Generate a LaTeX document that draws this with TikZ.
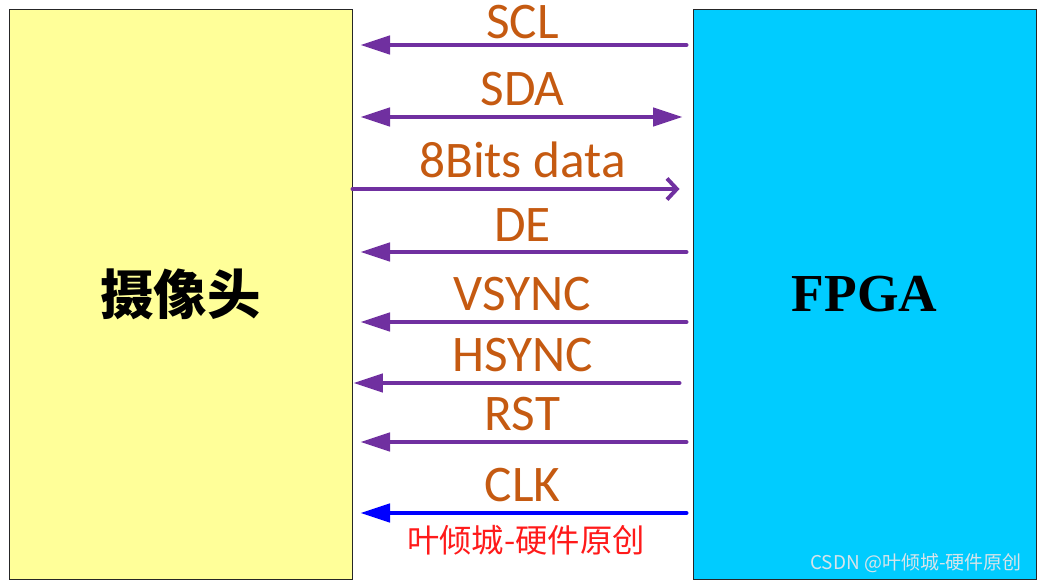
\documentclass[tikz,border=0pt]{standalone}
\usepackage{fontspec}
\setmainfont{Carlito}
\newfontfamily\cjk{Noto Sans CJK SC}
\newfontfamily\serifbold{Liberation Serif}
\usetikzlibrary{arrows.meta}

\definecolor{camyellow}{HTML}{FFFF99}
\definecolor{fpgacyan}{HTML}{00CCFF}
\definecolor{sigpurple}{HTML}{7030A0}
\definecolor{sigorange}{HTML}{C55A11}
\definecolor{clkblue}{HTML}{0000FF}
\definecolor{wmred}{HTML}{FF1A1A}
\definecolor{csdngray}{HTML}{D8E4EA}

\begin{document}
\begin{tikzpicture}[x=0.025cm, y=-0.025cm,
    block/.style={draw=black!85, line width=0.6pt, minimum width=8.575cm,
                  minimum height=14.25cm, inner sep=0pt},
    sig/.style={draw=sigpurple, line width=2.8pt, line cap=round,
                -{Triangle[length=21pt,width=13pt]},
                shorten <=0.15cm, shorten >=0.2cm},
    siglabel/.style={midway, above=#1, inner sep=0pt, text=sigorange,
                     font=\fontsize{36.5}{38}\selectfont},
    siglabel/.default=0.22cm
]
    \useasboundingbox (0,0) rectangle (1041,583);

    % Blocks
    \node[block, fill=camyellow] (camera) at (180.5,294)
        {\cjk\bfseries\fontsize{38}{40}\selectfont 摄像头};
    \node[block, fill=fpgacyan] (fpga) at (864.5,294)
        {\serifbold\bfseries\fontsize{38}{40}\selectfont FPGA};

    % Signals
    \draw[sig] (fpga.west |- 0,45) -- (camera.east |- 0,45)
        node[siglabel=0.1cm] (scl) {SCL};
    \draw[sig, {Triangle[length=21pt,width=13pt]}-{Triangle[length=21pt,width=13pt]},
          shorten <=0.2cm, shorten >=0.25cm]
        (camera.east |- 0,117) -- (fpga.west |- 0,117)
        node[siglabel] (sda) {SDA};
    \draw[sig, -{Straight Barb[length=7pt,width=15pt]}, shorten <=0pt, shorten >=0.325cm]
        (camera.east |- 0,189) -- (fpga.west |- 0,189)
        node[siglabel] (data) {8Bits data};
    \draw[sig] (fpga.west |- 0,252) -- (camera.east |- 0,252)
        node[siglabel] (de) {DE};
    \draw[sig] (fpga.west |- 0,322) -- (camera.east |- 0,322)
        node[siglabel] (vsync) {VSYNC};
    \draw[sig, shorten <=0.325cm, shorten >=0.025cm]
        (fpga.west |- 0,383) -- (camera.east |- 0,383)
        node[siglabel] (hsync) {HSYNC};
    \draw[sig] (fpga.west |- 0,442) -- (camera.east |- 0,442)
        node[siglabel] (rst) {RST};
    \draw[sig, draw=clkblue] (fpga.west |- 0,513) -- (camera.east |- 0,513)
        node[siglabel] (clk) {CLK};

    % Watermarks
    \node[text=wmred, font=\cjk\fontsize{23}{25}\selectfont] (author) at (526,540)
        {叶倾城-硬件原创};
    \node[text=csdngray, font=\cjk\fontsize{13.5}{15}\selectfont] (csdn) at (916,563)
        {CSDN @叶倾城-硬件原创};
\end{tikzpicture}
\end{document}
